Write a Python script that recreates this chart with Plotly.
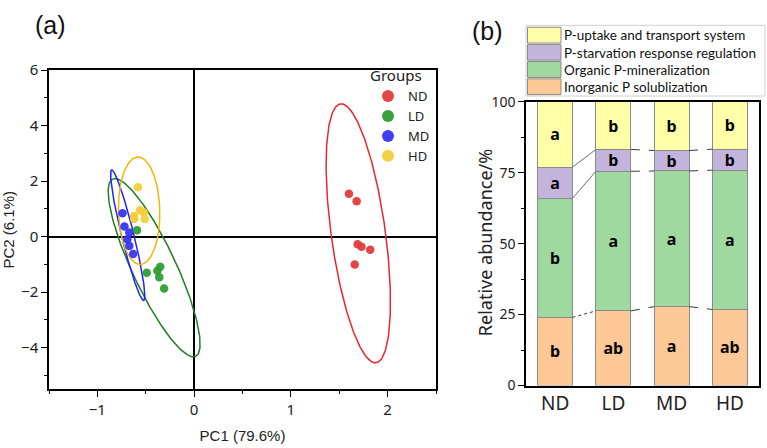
import numpy as np
import plotly.graph_objects as go

# ---------------- data: PCA scores (panel a) ----------------
groups = ["ND", "LD", "MD", "HD"]
nd_pc1 = [1.60, 1.68, 1.69, 1.73, 1.82, 1.66]
nd_pc2 = [1.55, 1.28, -0.27, -0.36, -0.47, -1.00]
ld_pc1 = [-0.59, -0.49, -0.38, -0.35, -0.36, -0.31]
ld_pc2 = [0.23, -1.30, -1.23, -1.08, -1.46, -1.87]
md_pc1 = [-0.74, -0.72, -0.67, -0.69, -0.67, -0.63]
md_pc2 = [0.85, 0.37, 0.15, -0.09, -0.33, -0.62]
hd_pc1 = [-0.58, -0.56, -0.52, -0.62, -0.62, -0.51]
hd_pc2 = [1.78, 0.95, 0.87, 0.75, 0.64, 0.64]
pc1_label = "PC1 (79.6%)"
pc2_label = "PC2 (6.1%)"

# ---------------- data: relative abundance (panel b) ----------------
treatments = ["ND", "LD", "MD", "HD"]
inorganic = [24.0, 26.3, 27.8, 26.8]
organic = [42.0, 49.2, 47.8, 49.1]
starvation = [11.0, 7.7, 7.2, 7.4]
uptake = [23.0, 16.8, 17.2, 16.7]
inorganic_sig = ["b", "ab", "a", "ab"]
organic_sig = ["b", "a", "a", "a"]
starvation_sig = ["a", "b", "b", "b"]
uptake_sig = ["a", "b", "b", "b"]
category_names = ["Inorganic P solublization", "Organic P-mineralization",
                  "P-starvation response regulation", "P-uptake and transport system"]
ylabel_b = "Relative abundance/%"

# ---------------- styles ----------------
W, H = 767, 448
def px(x): return x / W
def py(y): return 1 - y / H

point_colors = {"ND": "#E23B3F", "LD": "#2E9E31", "MD": "#3535F5", "HD": "#F2CD3A"}
ellipse_colors = {"ND": "#E8262B", "LD": "#1F7F1F", "MD": "#2020FF", "HD": "#F2B705"}
bar_colors = ["#FFC997", "#A0D9A0", "#C3B4DC", "#FFFFA8"]
TICKFONT = "Noto Sans, Open Sans, sans-serif"
LEGFONT = "Lato, Noto Sans, sans-serif"
TITLEFONT = "Liberation Sans, Arial, sans-serif"

fig = go.Figure()

# ---- confidence ellipses computed from the scores ----
def conf_ellipse(x, y, p=0.95, npts=240):
    x = np.asarray(x); y = np.asarray(y)
    n = len(x)
    cov = np.cov(np.vstack([x, y]))
    m = n - 2
    fq = m / 2 * ((1 - p) ** (-2 / m) - 1)       # F(2, n-2) quantile
    k = np.sqrt(2 * (n - 1) * (n + 1) / (n * (n - 2)) * fq)
    vals, vecs = np.linalg.eigh(cov)
    t = np.linspace(0, 2 * np.pi, npts)
    circ = np.vstack([np.cos(t), np.sin(t)])
    pts = vecs @ (np.sqrt(vals)[:, None] * circ) * k
    return x.mean() + pts[0], y.mean() + pts[1]

data_a = {"ND": (nd_pc1, nd_pc2), "LD": (ld_pc1, ld_pc2),
          "MD": (md_pc1, md_pc2), "HD": (hd_pc1, hd_pc2)}

for g in groups:
    ex, ey = conf_ellipse(*data_a[g])
    fig.add_trace(go.Scatter(x=ex, y=ey, mode="lines", showlegend=False,
                             line=dict(color=ellipse_colors[g], width=1.5),
                             hoverinfo="skip", xaxis="x", yaxis="y"))
for g in groups:
    fig.add_trace(go.Scatter(x=data_a[g][0], y=data_a[g][1], mode="markers", name=g,
                             marker=dict(color=point_colors[g], size=8.5, opacity=0.95),
                             xaxis="x", yaxis="y", legend="legend"))

# ---- stacked bars ----
xpos = list(range(len(treatments)))
layers = [inorganic, organic, starvation, uptake]
sigs = [inorganic_sig, organic_sig, starvation_sig, uptake_sig]
for vals, sg, col, nm in zip(layers, sigs, bar_colors, category_names):
    fig.add_trace(go.Bar(x=xpos, y=vals, name=nm, width=0.6, text=sg,
                         texttemplate="<b>%{text}</b>", textposition="inside",
                         insidetextanchor="middle", textangle=0, constraintext="none",
                         textfont=dict(color="black", size=16, family=TICKFONT),
                         marker=dict(color=col, line=dict(color="#8A8A8A", width=1)),
                         showlegend=False, xaxis="x2", yaxis="y2"))

# ---- connector lines between adjacent bars ----
cum = np.cumsum(np.array(layers), axis=0)   # boundary tops
half = 0.3
for i in range(len(treatments) - 1):
    for lvl in range(3):
        solid = (i == 0 and lvl > 0)
        fig.add_trace(go.Scatter(x=[xpos[i] + half, xpos[i + 1] - half],
                                 y=[cum[lvl][i], cum[lvl][i + 1]], mode="lines",
                                 line=dict(color="#6E6E6E" if solid else "#3A3A3A",
                                           width=1, dash="solid" if solid else ("dot" if i == 0 else "dash")),
                                 showlegend=False, hoverinfo="skip", xaxis="x2", yaxis="y2"))

# ---- manual legend for panel b (large swatches) ----
shapes = [dict(type="rect", xref="paper", yref="paper", x0=px(526), x1=px(765), y0=py(89), y1=py(15),
               line=dict(color="#CFCFCF", width=1), fillcolor="white", layer="above")]
annotations = []
legend_order = list(zip(category_names, bar_colors))[::-1]
for j, (nm, col) in enumerate(legend_order):
    top = 17 + j * 18
    shapes.append(dict(type="rect", xref="paper", yref="paper", x0=px(527.5), x1=px(561),
                       y0=py(top + 16.5), y1=py(top), fillcolor=col,
                       line=dict(color="#8A8A8A", width=1), layer="above"))
    annotations.append(dict(text=nm, xref="paper", yref="paper", x=px(562), y=py(top + 8.5),
                            xanchor="left", yanchor="middle", showarrow=False,
                            font=dict(size=13.5, color="#111", family=LEGFONT)))

annotations += [
    dict(text="(a)", xref="paper", yref="paper", x=px(50), y=py(15), showarrow=False,
         xanchor="center", yanchor="middle", font=dict(size=25, color="#111", family=TITLEFONT)),
    dict(text="(b)", xref="paper", yref="paper", x=px(487), y=py(21), showarrow=False,
         xanchor="center", yanchor="middle", font=dict(size=25, color="#111", family=TITLEFONT)),
    dict(text=ylabel_b, xref="paper", yref="paper", x=px(485), y=py(243), showarrow=False,
         textangle=-90, xanchor="center", yanchor="middle",
         font=dict(size=18, color="#222", family=TICKFONT)),
]

axis_common = dict(showline=True, linecolor="black", linewidth=1.5, mirror=True,
                   ticks="outside", tickcolor="black", tickwidth=1.2, showgrid=False)

fig.update_layout(
    width=W, height=H, autosize=False,
    margin=dict(l=0, r=0, t=0, b=0),
    paper_bgcolor="white", plot_bgcolor="white",
    barmode="stack",
    shapes=shapes, annotations=annotations,
    xaxis=dict(domain=[px(49), px(436)], range=[-1.5, 2.5], dtick=1, ticklen=6,
               zeroline=True, zerolinecolor="black", zerolinewidth=1.5,
               minor=dict(ticks="outside", dtick=0.5, ticklen=3, tickcolor="black"),
               tickfont=dict(size=15, color="#222", family=TICKFONT),
               title=dict(text=pc1_label, font=dict(size=15, color="#222", family=TITLEFONT), standoff=12),
               anchor="y", **axis_common),
    yaxis=dict(domain=[py(396), py(62)], range=[-5.5, 6], dtick=2, ticklen=6,
               zeroline=True, zerolinecolor="black", zerolinewidth=1.5,
               minor=dict(ticks="outside", dtick=1, ticklen=3, tickcolor="black"),
               tickfont=dict(size=15, color="#222", family=TICKFONT),
               title=dict(text=pc2_label, font=dict(size=15, color="#222", family=TITLEFONT), standoff=8),
               anchor="x", **axis_common),
    xaxis2=dict(domain=[px(526), px(759)], range=[-0.5, 3.5], tickvals=xpos, ticktext=treatments,
                ticks="", showline=True, linecolor="black", linewidth=1.5, mirror=True,
                showgrid=False, zeroline=False,
                tickfont=dict(size=19, color="#222", family=TICKFONT), anchor="y2"),
    yaxis2=dict(domain=[py(392), py(95)], range=[0, 100], dtick=25, ticklen=6,
                zeroline=False,
                minor=dict(ticks="outside", dtick=12.5, ticklen=3, tickcolor="black"),
                tickfont=dict(size=14, color="#222", family=TICKFONT),
                anchor="x2", **axis_common),
    legend=dict(x=px(368), y=py(53), xanchor="left", yanchor="top", traceorder="normal",
                bgcolor="rgba(0,0,0,0)", borderwidth=0,
                title=dict(text="Groups", font=dict(size=15, color="#222", family=TICKFONT)),
                font=dict(size=13, color="#222", family=TICKFONT),
                itemsizing="constant", tracegroupgap=0),
)

fig.write_html("out.html")
